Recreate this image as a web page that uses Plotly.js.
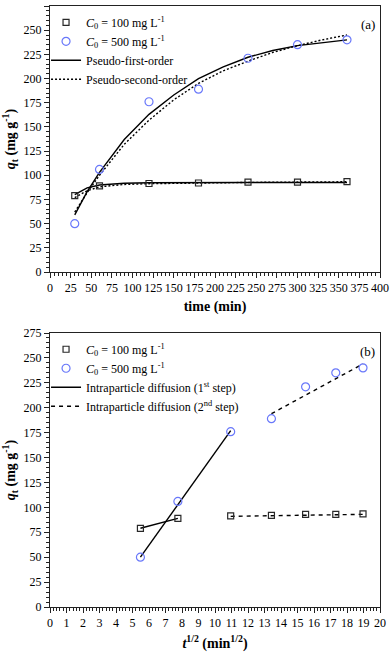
<!DOCTYPE html>
<html>
<head>
<meta charset="utf-8">
<script src="https://cdn.plot.ly/plotly-3.0.1.min.js"></script>
<style>
  html, body { margin: 0; padding: 0; background: #fff; }
  #chart { width: 390px; height: 653px; }
</style>
</head>
<body>
<div id="chart"></div>
<script>
// measured points
var time = [30, 60, 120, 180, 240, 300, 360]
var sqrt_t = [5.48, 7.75, 10.95, 13.42, 15.49, 17.32, 18.97]
var q_100 = [79, 89, 91.5, 92, 93, 93, 93.5]
var q_500 = [50, 106, 176, 189, 221, 235, 240]

// kinetic model curves
var fit_t = [30, 45, 60, 90, 120, 150, 180, 210, 240, 270, 300, 330, 360]
var pfo_100 = [80, 87, 90, 91.8, 92.3, 92.5, 92.5, 92.5, 92.5, 92.5, 92.5, 92.5, 92.5]
var pso_100 = [77, 84, 88, 90.5, 91.3, 91.8, 92.1, 92.4, 92.6, 92.8, 93, 93.1, 93.3]
var pfo_500 = [59, 83, 103, 137, 163, 183, 200, 212, 222, 229, 234, 237, 240]
var pso_500 = [62, 82, 100, 132, 157, 178, 195, 208, 218, 227, 234, 240, 245]

// intraparticle diffusion segments
var ipd1_100_x = [5.48, 7.75]
var ipd1_100_y = [79, 89]
var ipd1_500_x = [5.48, 10.95]
var ipd1_500_y = [50, 177]
var ipd2_100_x = [10.95, 18.97]
var ipd2_100_y = [91, 93]
var ipd2_500_x = [13.42, 18.97]
var ipd2_500_y = [194, 244]

var lbl_100 = "<i>C</i><sub>0</sub> = 100 mg L<sup>-1</sup>"
var lbl_500 = "<i>C</i><sub>0</sub> = 500 mg L<sup>-1</sup>"

var serif = 'Liberation Serif'
var blue = 'rgb(105,120,250)'
var dark = 'rgb(40,40,40)'
var sq_marker = {symbol: 'square-open', size: 6, color: dark, line: {width: 1.2}}
var ci_marker = {symbol: 'circle-open', size: 8, color: blue, line: {width: 1.2}}
var solid = {color: 'black', width: 1.4}
var dotted = {color: 'black', width: 1.4, dash: '2px,2px'}
var dashed = {color: 'black', width: 1.4, dash: '4px,4px'}

var traces = [
	// (a) fits
	{x: fit_t, y: pfo_100, mode: 'lines', line: solid, name: 'Pseudo-first-order', legend: 'legend', legendrank: 3, xaxis: 'x', yaxis: 'y'},
	{x: fit_t, y: pfo_500, mode: 'lines', line: solid, showlegend: false, xaxis: 'x', yaxis: 'y'},
	{x: fit_t, y: pso_100, mode: 'lines', line: dotted, name: 'Pseudo-second-order', legend: 'legend', legendrank: 4, xaxis: 'x', yaxis: 'y'},
	{x: fit_t, y: pso_500, mode: 'lines', line: dotted, showlegend: false, xaxis: 'x', yaxis: 'y'},
	// (a) points
	{x: time, y: q_100, mode: 'markers', marker: sq_marker, name: lbl_100, legend: 'legend', legendrank: 1, xaxis: 'x', yaxis: 'y'},
	{x: time, y: q_500, mode: 'markers', marker: ci_marker, name: lbl_500, legend: 'legend', legendrank: 2, xaxis: 'x', yaxis: 'y'},

	// (b) fits
	{x: ipd1_100_x, y: ipd1_100_y, mode: 'lines', line: solid, name: 'Intraparticle diffusion (1<sup>st</sup> step)', legend: 'legend2', legendrank: 3, xaxis: 'x2', yaxis: 'y2'},
	{x: ipd1_500_x, y: ipd1_500_y, mode: 'lines', line: solid, showlegend: false, xaxis: 'x2', yaxis: 'y2'},
	{x: ipd2_100_x, y: ipd2_100_y, mode: 'lines', line: dashed, name: 'Intraparticle diffusion (2<sup>nd</sup> step)', legend: 'legend2', legendrank: 4, xaxis: 'x2', yaxis: 'y2'},
	{x: ipd2_500_x, y: ipd2_500_y, mode: 'lines', line: dashed, showlegend: false, xaxis: 'x2', yaxis: 'y2'},
	// (b) points
	{x: sqrt_t, y: q_100, mode: 'markers', marker: sq_marker, name: lbl_100, legend: 'legend2', legendrank: 1, xaxis: 'x2', yaxis: 'y2'},
	{x: sqrt_t, y: q_500, mode: 'markers', marker: ci_marker, name: lbl_500, legend: 'legend2', legendrank: 2, xaxis: 'x2', yaxis: 'y2'}
]

function make_axis(extra) {
	let ax = {
		showline: true, mirror: true, linecolor: '#222', linewidth: 1,
		ticks: 'outside', ticklen: 5, tickwidth: 1, tickcolor: '#222',
		showgrid: false, zeroline: false,
		tickfont: {family: serif, size: 12, color: 'black'}
	}
	return Object.assign(ax, extra)
}

function minor(step) {
	return {dtick: step, ticks: 'outside', ticklen: 3, tickcolor: '#222', showgrid: false}
}

var q_title = {text: '<b><i>q</i><sub>t</sub> (mg g<sup>-1</sup>)</b>', font: {family: serif, size: 14}, standoff: 8}

var leg_base = {
	xref: 'paper', yref: 'paper', xanchor: 'left', yanchor: 'top',
	bgcolor: 'rgba(0,0,0,0)', borderwidth: 0, itemwidth: 30,
	tracegroupgap: 0, traceorder: 'normal', font: {family: serif, size: 12, color: 'black'}
}

var layout = {
	width: 390, height: 653,
	margin: {l: 50, r: 10, t: 6, b: 46},
	paper_bgcolor: 'white', plot_bgcolor: 'white',
	font: {family: serif, color: 'black'},
	showlegend: true,
	xaxis: make_axis({domain: [0, 1], range: [0, 400], dtick: 25, minor: minor(5), anchor: 'y',
		title: {text: '<b>time (min)</b>', font: {family: serif, size: 14}, standoff: 6}}),
	yaxis: make_axis({domain: [0.5574, 1], range: [0, 275], dtick: 25, minor: minor(5), anchor: 'x',
		title: q_title}),
	xaxis2: make_axis({domain: [0, 1], range: [0, 20], dtick: 1, minor: minor(0.2), anchor: 'y2',
		title: {text: '<b><i>t</i><sup>1/2</sup> (min<sup>1/2</sup>)</b>', font: {family: serif, size: 14}, standoff: 8}}),
	yaxis2: make_axis({domain: [0, 0.4559], range: [0, 275], dtick: 25, minor: minor(5), anchor: 'x2',
		title: q_title}),
	legend: Object.assign({}, leg_base, {x: -0.012, y: 0.997}),
	legend2: Object.assign({}, leg_base, {x: -0.012, y: 0.453}),
	annotations: [
		{text: '(a)', xref: 'paper', yref: 'paper', x: 0.99, y: 0.985, xanchor: 'right', yanchor: 'top', showarrow: false, font: {family: serif, size: 13}},
		{text: '(b)', xref: 'paper', yref: 'paper', x: 0.99, y: 0.441, xanchor: 'right', yanchor: 'top', showarrow: false, font: {family: serif, size: 13}}
	]
}

Plotly.newPlot('chart', traces, layout, {displayModeBar: false, staticPlot: true})
</script>
</body>
</html>
